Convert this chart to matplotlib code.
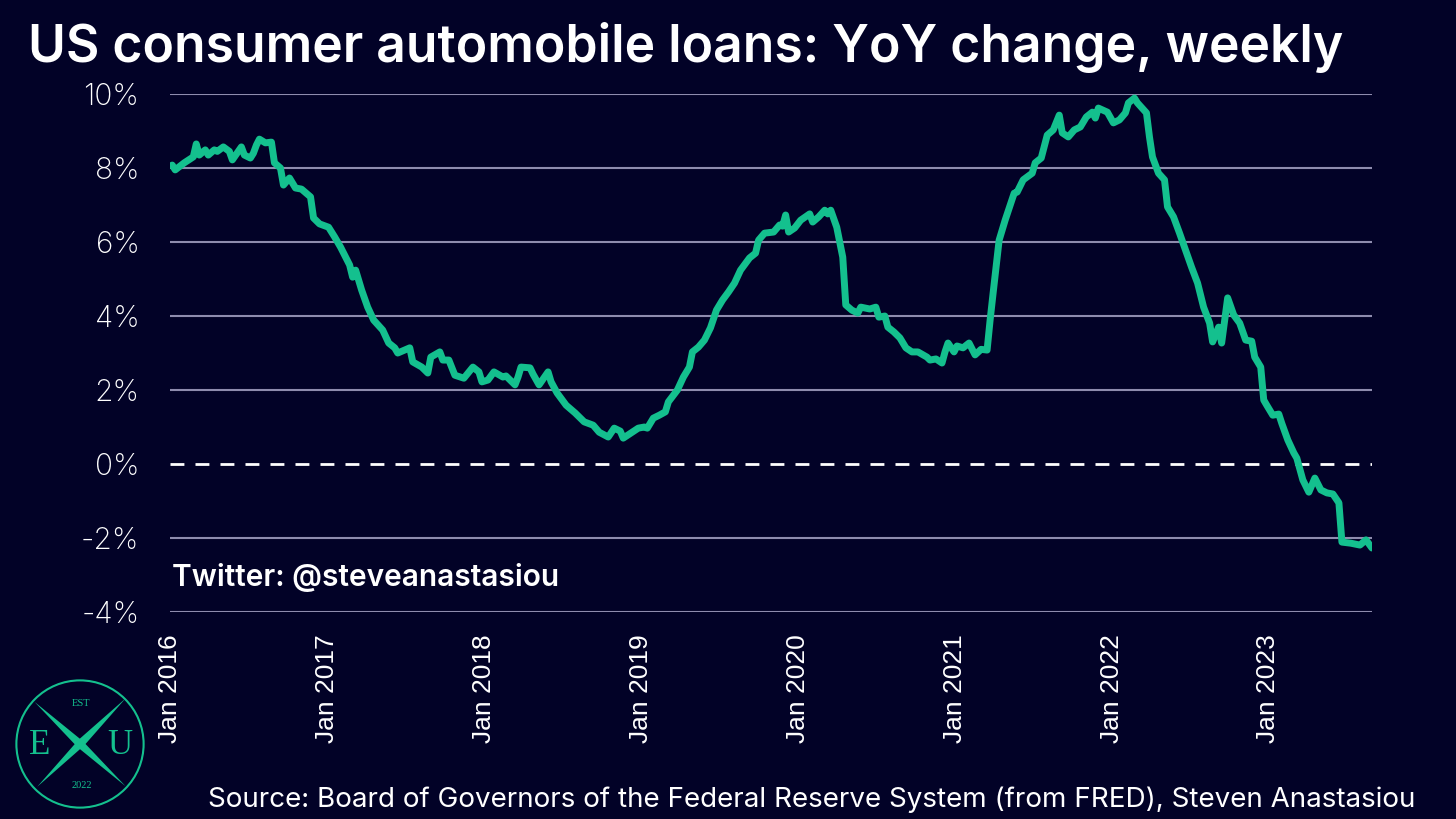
import numpy as np
import pandas as pd
import matplotlib
matplotlib.use('Agg')
from matplotlib import pyplot as plt
from matplotlib.patches import Circle, Polygon

plt.rcParams['font.family'] = ['Inter', 'DejaVu Sans']

# weekly readings: week offset from the first observation, YoY % change
start = '2016-01-06'
week = [0, 1, 4, 7, 8, 9, 11, 12, 14, 15, 17, 19, 20, 23, 24, 26, 27, 28, 29, 31,
        33, 34, 36, 37, 39, 41, 43, 46, 47, 49, 52, 54, 56, 59, 60, 61, 63, 65, 67, 70,
        72, 74, 75, 79, 80, 83, 85, 86, 89, 90, 92, 94, 97, 100, 102, 103, 105, 107, 110, 111,
        114, 115, 116, 119, 120, 122, 125, 126, 128, 131, 134, 137, 140, 142, 145, 147, 149, 150, 153, 155,
        157, 158, 160, 162, 164, 165, 168, 170, 172, 173, 175, 177, 179, 181, 183, 185, 187, 189, 192, 194,
        195, 197, 200, 202, 203, 204, 205, 207, 209, 212, 213, 215, 217, 218, 219, 221, 223, 224, 226, 228,
        229, 232, 234, 235, 237, 238, 240, 242, 244, 246, 248, 251, 252, 254, 256, 257, 258, 260, 261, 263,
        265, 267, 269, 271, 272, 273, 275, 277, 280, 281, 283, 286, 287, 289, 291, 293, 295, 296, 298, 300,
        302, 304, 306, 307, 308, 311, 313, 315, 317, 318, 320, 321, 324, 325, 326, 328, 330, 331, 333, 335,
        337, 339, 341, 343, 345, 346, 348, 349, 351, 353, 355, 357, 359, 360, 362, 363, 364, 366, 368, 369,
        371, 373, 374, 376, 378, 380, 382, 384, 386, 388, 389, 392, 395, 397, 399]
yoy = [8.08, 7.95, 8.14, 8.30, 8.65, 8.35, 8.49, 8.35, 8.49, 8.45, 8.57, 8.45, 8.22, 8.57, 8.35, 8.27, 8.40, 8.62, 8.78, 8.68,
       8.70, 8.14, 8.00, 7.54, 7.73, 7.46, 7.43, 7.22, 6.65, 6.49, 6.40, 6.14, 5.86, 5.38, 5.05, 5.24, 4.70, 4.24, 3.89, 3.62,
       3.27, 3.14, 3.00, 3.14, 2.76, 2.62, 2.46, 2.89, 3.03, 2.81, 2.81, 2.40, 2.32, 2.62, 2.49, 2.22, 2.27, 2.49, 2.35, 2.38,
       2.14, 2.35, 2.62, 2.60, 2.43, 2.14, 2.49, 2.22, 1.92, 1.59, 1.38, 1.14, 1.05, 0.86, 0.73, 0.97, 0.89, 0.70, 0.86, 0.97,
       1.00, 0.97, 1.24, 1.32, 1.41, 1.68, 2.00, 2.35, 2.62, 3.03, 3.16, 3.35, 3.68, 4.16, 4.43, 4.65, 4.89, 5.24, 5.57, 5.70,
       6.05, 6.24, 6.27, 6.46, 6.43, 6.73, 6.27, 6.38, 6.59, 6.76, 6.54, 6.68, 6.86, 6.76, 6.86, 6.40, 5.59, 4.30, 4.16, 4.08,
       4.24, 4.19, 4.24, 3.97, 4.00, 3.70, 3.57, 3.41, 3.14, 3.03, 3.03, 2.89, 2.81, 2.84, 2.73, 3.03, 3.27, 3.03, 3.19, 3.14,
       3.27, 2.95, 3.10, 3.08, 3.89, 4.62, 6.05, 6.59, 7.32, 7.35, 7.68, 7.86, 8.14, 8.27, 8.89, 9.03, 9.43, 8.95, 8.84, 9.03,
       9.11, 9.38, 9.51, 9.35, 9.62, 9.51, 9.22, 9.30, 9.49, 9.76, 9.89, 9.76, 9.49, 8.84, 8.30, 7.86, 7.68, 6.95, 6.68, 6.24,
       5.78, 5.32, 4.89, 4.24, 3.81, 3.30, 3.70, 3.27, 4.49, 4.03, 3.81, 3.35, 3.32, 2.89, 2.62, 1.73, 1.59, 1.32, 1.35, 1.10,
       0.65, 0.30, 0.16, -0.43, -0.76, -0.38, -0.70, -0.78, -0.81, -1.05, -2.11, -2.14, -2.19, -2.05, -2.27]

tick_years = [2016, 2017, 2018, 2019, 2020, 2021, 2022, 2023]
y_ticks = [-4, -2, 0, 2, 4, 6, 8, 10]

bg = '#020227'
teal = '#14c08e'
grid_c = '#8e8cae'

dates = pd.Timestamp(start) + pd.to_timedelta(np.array(week) * 7, unit='D')

fig = plt.figure(figsize=(14.56, 8.19), dpi=100, facecolor=bg)
ax = fig.add_axes([0.1168, 0.2527, 0.8255, 0.6325], facecolor=bg)

for v in y_ticks:
    if v == 0:
        ax.axhline(0, color='white', lw=2, ls=(0, (5, 4)), zorder=1)
    else:
        ax.axhline(v, color=grid_c, lw=1.5, zorder=1)

ax.plot(dates, yoy, color=teal, lw=5, solid_joinstyle='round', solid_capstyle='round', zorder=3)

ax.set_ylim(-4, 10)
ax.set_xlim(pd.Timestamp('2016-01-01'), dates[-1])
ax.set_yticks(y_ticks)
ax.set_yticklabels([f'{v}%' for v in y_ticks], fontsize=21.5, fontweight='light')
ax.set_xticks([pd.Timestamp(f'{y}-01-01') for y in tick_years])
ax.set_xticklabels([f'Jan {y}' for y in tick_years], rotation=90, fontsize=19,
                   family='Liberation Sans')
ax.tick_params(axis='both', length=0, colors='white')
ax.tick_params(axis='y', pad=22)
ax.tick_params(axis='x', pad=16)
for s in ax.spines.values():
    s.set_visible(False)

fig.text(28 / 1456, 1 - 62 / 819, 'US consumer automobile loans: YoY change, weekly',
         color='white', fontsize=37.2, fontweight='semibold', va='baseline', ha='left')
fig.text(172 / 1456, 1 - 577 / 819, 'Twitter: @steveanastasiou',
         color='white', fontsize=21.5, fontweight='semibold', va='center', ha='left')
fig.text(812 / 1456, 1 - 800 / 819,
         'Source: Board of Governors of the Federal Reserve System (from FRED), Steven Anastasiou',
         color='white', fontsize=20, va='center', ha='center')

# logo
lax = fig.add_axes([5 / 1456, 0, 150 / 1456, 150 / 819])
lax.set_xlim(-1.12, 1.12)
lax.set_ylim(-1.12, 1.12)
lax.set_aspect('equal')
lax.axis('off')
lax.add_patch(Circle((0, 0), 0.95, fill=False, ec=teal, lw=1.5))
for (x0, y0), (x1, y1) in [((-0.68, 0.63), (0.68, -0.63)), ((0.68, 0.68), (-0.64, -0.64))]:
    dx, dy = x1 - x0, y1 - y0
    n = np.hypot(dx, dy)
    px, py = -dy / n * 0.06, dx / n * 0.06
    mx, my = (x0 + x1) / 2, (y0 + y1) / 2
    lax.add_patch(Polygon([(x0, y0), (mx + px, my + py), (x1, y1), (mx - px, my - py)],
                          closed=True, fc=teal, ec='none'))
lax.text(-0.6, -0.02, 'E', color=teal, fontsize=25, family='Liberation Serif', ha='center', va='center')
lax.text(0.6, -0.02, 'U', color=teal, fontsize=25, family='Liberation Serif', ha='center', va='center')
lax.text(0.02, 0.6, 'EST', color=teal, fontsize=7.5, family='Liberation Serif', ha='center', va='center')
lax.text(0.02, -0.62, '2022', color=teal, fontsize=7.5, family='Liberation Serif', ha='center', va='center')

fig.savefig('out.png', dpi=100, facecolor=bg)
